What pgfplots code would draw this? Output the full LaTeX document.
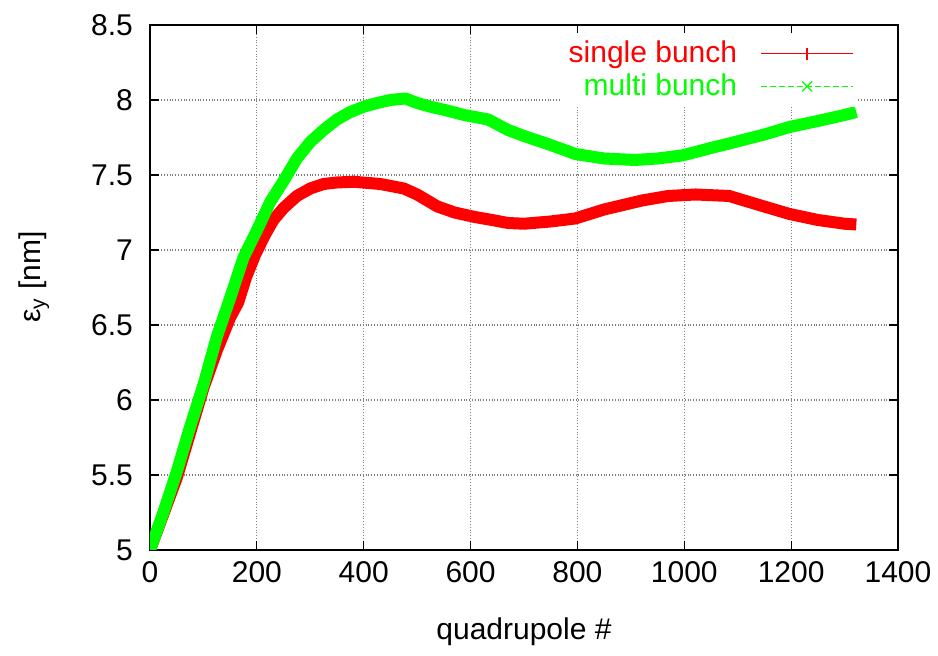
\documentclass[border=0pt]{standalone}
\usepackage{pgfplots}
\pgfplotsset{compat=1.18}
\usepackage{fontspec}
\setmainfont{Liberation Sans}
\definecolor{gpgreen}{RGB}{0,255,0}
\newcommand{\gpfont}{\fontsize{15}{18}\selectfont}
\begin{document}
\begin{tikzpicture}
\begin{axis}[
 scale only axis, width=374pt, height=262.5pt,
 xmin=0, xmax=1400, ymin=5, ymax=8.5,
 xtick distance=200, ytick distance=0.5,
 /pgf/number format/assume math mode=true,
 /pgf/number format/1000 sep={},
 tick label style={font=\gpfont},
 label style={font=\gpfont},
 xticklabel style={yshift=-2.5pt},
 yticklabel style={xshift=-5pt},
 grid=major, grid style={densely dotted, gray, line width=0.6pt},
 axis line style={line width=0.6pt},
 major tick length=4.5pt, tick style={black, line width=0.6pt},
 xlabel={quadrupole \#}, ylabel={ε\textsubscript{y} [nm]},
 xlabel style={at={(axis description cs:0.5,-0.156)}, anchor=center},
 ylabel style={at={(axis description cs:-0.155,0.52)}, anchor=center},
 legend style={at={(rel axis cs:0.947,0.985)}, anchor=north east, draw=none, fill=white, font=\gpfont, inner sep=2pt, row sep=0pt},
 legend cell align=right,
 legend plot pos=right,
]
\addplot[color=red, line width=6pt, line join=round,
  legend image code/.code={
    \path[draw=none, fill=none] (0pt,-4pt) rectangle (56pt,4pt);
    \draw[solid, draw=red, line width=0.8pt] (33pt,-3pt) -- (33pt,3pt);
    \draw[solid, draw=red, line width=0.8pt] (10pt,0pt) -- (56pt,0pt);
  }] coordinates {
(0,5.0) (25,5.24) (50,5.48) (75,5.78) (100,6.08) (125,6.33) (150,6.55) (165,6.65) (180,6.82) (197,6.97) (215,7.1) (231,7.2) (250,7.28) (275,7.36) (300,7.41) (325,7.44) (350,7.45) (381,7.455) (431,7.44) (475,7.41) (500,7.37) (538,7.29) (570,7.25) (608,7.22) (640,7.2) (670,7.18) (700,7.175) (750,7.19) (796,7.21) (850,7.27) (921,7.33) (970,7.36) (1021,7.37) (1084,7.36) (1140,7.30) (1197,7.24) (1250,7.20) (1300,7.175) (1322,7.17)
};
\addlegendentry{\textcolor{red}{single bunch}}
\addplot[gpgreen, line width=6pt, line join=round,
  legend image code/.code={
    \path[draw=none, fill=none] (0pt,-4pt) rectangle (56pt,4pt);
    \draw[gpgreen, line width=0.6pt, dash pattern=on 3pt off 1.5pt] (10pt,0pt) -- (56pt,0pt);
    \draw[solid, gpgreen, line width=0.6pt] (30.5pt,-2.5pt) -- (35.5pt,2.5pt) (30.5pt,2.5pt) -- (35.5pt,-2.5pt);
  }] coordinates {
(0,5.0) (25,5.25) (50,5.52) (75,5.82) (100,6.1) (125,6.42) (150,6.68) (175,6.95) (200,7.13) (225,7.32) (250,7.46) (275,7.61) (300,7.72) (325,7.8) (350,7.87) (375,7.92) (400,7.955) (425,7.98) (450,8.0) (478,8.01) (500,7.98) (525,7.955) (550,7.935) (588,7.90) (633,7.87) (670,7.80) (700,7.76) (750,7.70) (796,7.64) (850,7.61) (908,7.60) (950,7.61) (996,7.63) (1050,7.68) (1084,7.71) (1150,7.77) (1197,7.82) (1250,7.86) (1300,7.90) (1322,7.92)
};
\addlegendentry{\textcolor{gpgreen}{multi bunch}}
\end{axis}
\path ([shift={(-75pt,-53pt)}]current axis.south west) rectangle ([shift={(20pt,12.5pt)}]current axis.north east);
\end{tikzpicture}
\end{document}
